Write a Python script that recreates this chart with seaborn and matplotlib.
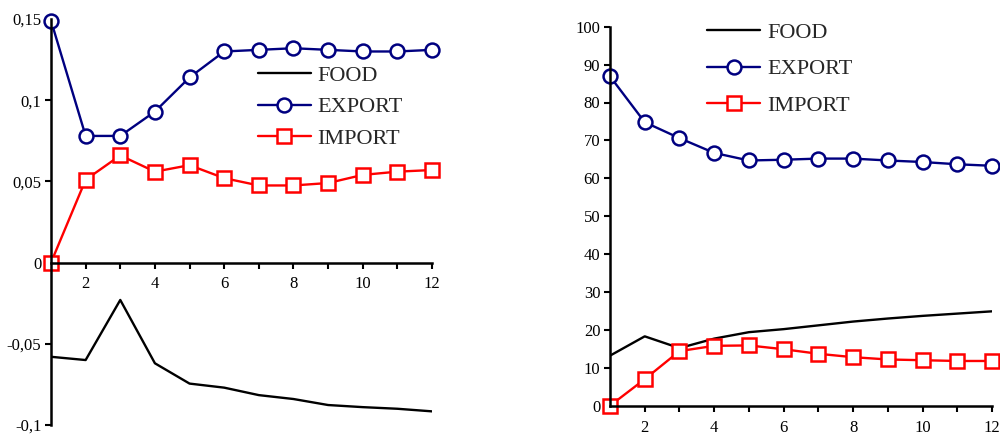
import numpy as np
import pandas as pd
import matplotlib
matplotlib.use("Agg")
import matplotlib.pyplot as plt
import seaborn as sns

sns.set_style("white")
plt.rcParams['font.family'] = ['Liberation Serif', 'DejaVu Serif']

periods = list(range(1, 13))

# Left panel
left_food = [-0.058, -0.060, -0.023, -0.062, -0.0745, -0.077, -0.0816, -0.084, -0.0877, -0.089, -0.090, -0.0916]
left_export = [0.149, 0.078, 0.078, 0.093, 0.114, 0.130, 0.131, 0.132, 0.131, 0.130, 0.130, 0.131]
left_import = [0.0, 0.051, 0.066, 0.056, 0.060, 0.052, 0.0475, 0.0475, 0.049, 0.054, 0.056, 0.057]
left_yticks = [-0.1, -0.05, 0, 0.05, 0.1, 0.15]
left_yticklabels = ["-0,1", "-0,05", "0", "0,05", "0,1", "0,15"]

# Right panel
right_food = [13.2, 18.3, 15.2, 17.7, 19.4, 20.2, 21.2, 22.2, 23.0, 23.7, 24.3, 24.9]
right_export = [86.9, 74.8, 70.6, 66.7, 64.7, 64.9, 65.2, 65.2, 64.7, 64.3, 63.7, 63.3]
right_import = [0.0, 7.0, 14.4, 15.8, 15.9, 14.9, 13.7, 12.8, 12.2, 12.0, 11.8, 11.8]
right_yticks = list(range(0, 101, 10))

xtick_labels = [2, 4, 6, 8, 10, 12]
series_names = ["FOOD", "EXPORT", "IMPORT"]

NAVY = "#000080"
RED = "#FF0000"

fig = plt.figure(figsize=(10, 4.34), dpi=100)
axL = fig.add_axes([0.051, 1 - 425 / 434, 0.432 - 0.051, (425 - 19) / 434])
axR = fig.add_axes([0.610, 1 - 405.7 / 434, 0.992 - 0.610, (405.7 - 26.7) / 434])


def draw(ax, food, export, imp):
    sns.lineplot(x=periods, y=food, ax=ax, color="black", lw=1.7, label=series_names[0])
    sns.lineplot(x=periods, y=export, ax=ax, color=NAVY, lw=1.7, marker="o", markersize=10,
                 markerfacecolor="white", markeredgecolor=NAVY, markeredgewidth=1.8,
                 label=series_names[1], clip_on=False)
    sns.lineplot(x=periods, y=imp, ax=ax, color=RED, lw=1.7, marker="s", markersize=10,
                 markerfacecolor="white", markeredgecolor=RED, markeredgewidth=1.8,
                 label=series_names[2], clip_on=False)
    ax.set_xlim(1, 12)
    ax.set_xticks(periods)
    ax.set_xticklabels([str(p) if p in xtick_labels else "" for p in periods])
    for s in ["top", "right"]:
        ax.spines[s].set_visible(False)
    for s in ["left", "bottom"]:
        ax.spines[s].set_color("black")
        ax.spines[s].set_linewidth(1.8)
    ax.tick_params(axis="both", direction="out", length=4, width=1.5, colors="black",
                   labelsize=12, bottom=True, left=True)
    ax.tick_params(axis="x", pad=6)
    ax.tick_params(axis="y", pad=3)
    ax.grid(False)
    ax.set_xlabel("")
    ax.set_ylabel("")


draw(axL, left_food, left_export, left_import)
axL.set_ylim(-0.1, 0.15)
axL.set_yticks(left_yticks)
axL.set_yticklabels(left_yticklabels)
axL.spines["bottom"].set_position(("data", 0))
axL.legend(loc="upper left", bbox_to_anchor=(0.49, 0.935), frameon=False, fontsize=16,
           handlelength=2.4, handletextpad=0.3, labelspacing=0.49)

draw(axR, right_food, right_export, right_import)
axR.set_ylim(0, 100)
axR.set_yticks(right_yticks)
axR.legend(loc="upper left", bbox_to_anchor=(0.202, 1.065), frameon=False, fontsize=16,
           handlelength=2.4, handletextpad=0.3, labelspacing=0.73)

fig.savefig("out.png", dpi=100)
